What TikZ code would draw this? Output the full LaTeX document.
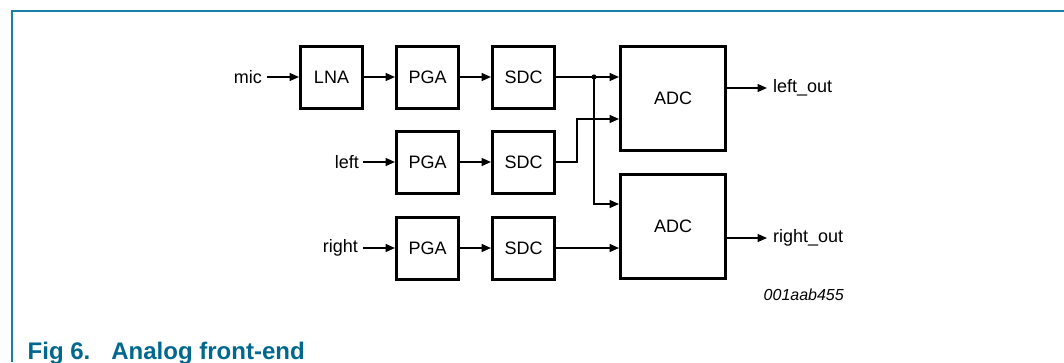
\documentclass[tikz,border=0pt]{standalone}
\usepackage{fontspec}
\setmainfont{Liberation Sans}
\usetikzlibrary{arrows.meta,calc}
\definecolor{framecol}{RGB}{24,128,166}
\definecolor{capcol}{RGB}{0,104,142}
\begin{document}
\begin{tikzpicture}[x=1pt,y=-1pt,
  blk/.style={draw=black,line width=3pt,minimum width=62pt,minimum height=62pt,inner sep=0pt,font=\fontsize{18}{20}\selectfont},
  bigblk/.style={draw=black,line width=3pt,minimum width=105pt,minimum height=104pt,inner sep=0pt,font=\fontsize{18}{20}\selectfont},
  lbl/.style={inner sep=0pt,font=\fontsize{18}{20}\selectfont},
  conn/.style={line width=1.5pt,-{Triangle[length=9.5pt,width=8pt]}},
  wire/.style={line width=1.5pt}]
\useasboundingbox (0,0) rectangle (1064,362);
\draw[framecol,line width=2pt] (12,362) -- (12,10.5) -- (1064,10.5);
% blocks
\node[blk] (lna) at (331.5,77) {LNA};
\node[blk] (pga1) at (427.5,77) {PGA};
\node[blk] (sdc1) at (523.5,77) {SDC};
\node[blk] (pga2) at (427.5,162) {PGA};
\node[blk] (sdc2) at (523.5,162) {SDC};
\node[blk] (pga3) at (427.5,248) {PGA};
\node[blk] (sdc3) at (523.5,248) {SDC};
\node[bigblk] (adc1) at (673,98.5) {ADC};
\node[bigblk] (adc2) at (673,226.5) {ADC};
% input labels
\node[lbl,anchor=east] (mic) at (262,77) {mic};
\node[lbl,anchor=east] (left) at (359,162) {left};
\node[lbl,anchor=east] (right) at (358,248) {right};
\coordinate (micS) at (267,77);
\coordinate (leftS) at (363,162);
\coordinate (rightS) at (363,248);
\draw[conn] (micS) -- (lna.west);
\draw[conn] (leftS) -- (pga2.west);
\draw[conn] (rightS) -- (pga3.west);
\draw[conn] (lna.east) -- (pga1.west);
\draw[conn] (pga1.east) -- (sdc1.west);
\draw[conn] (pga2.east) -- (sdc2.west);
\draw[conn] (pga3.east) -- (sdc3.west);
% to ADCs
\coordinate (dot) at (594,77);
\draw[conn] (sdc1.east) -- (adc1.west |- dot);
\draw[conn] (dot) -- (594,204) -- (adc2.west |- 0,204);
\fill (dot) circle (2.6pt);
\draw[conn] (sdc2.east) -- (577,162) -- (577,119) -- (adc1.west |- 0,119);
\draw[conn] (sdc3.east) -- (adc2.west |- sdc3.east);
% outputs
\coordinate (lo) at (767,88);
\coordinate (ro) at (767,238);
\draw[conn] (adc1.east |- lo) -- (lo);
\draw[conn] (adc2.east |- ro) -- (ro);
\node[lbl,anchor=west] (leftout) at (773,88) {left\_out};
\node[lbl,anchor=west] (rightout) at (773,238) {right\_out};
\node[inner sep=0pt,anchor=base east,font=\fontsize{16}{18}\selectfont\itshape] (code) at (844,300.5) {001aab455};
\node[inner sep=0pt,anchor=base west,text=capcol,font=\fontsize{24}{26}\selectfont\bfseries] (cap) at (27.5,359) {Fig 6.\hspace{21pt}Analog front-end};
\end{tikzpicture}
\end{document}
